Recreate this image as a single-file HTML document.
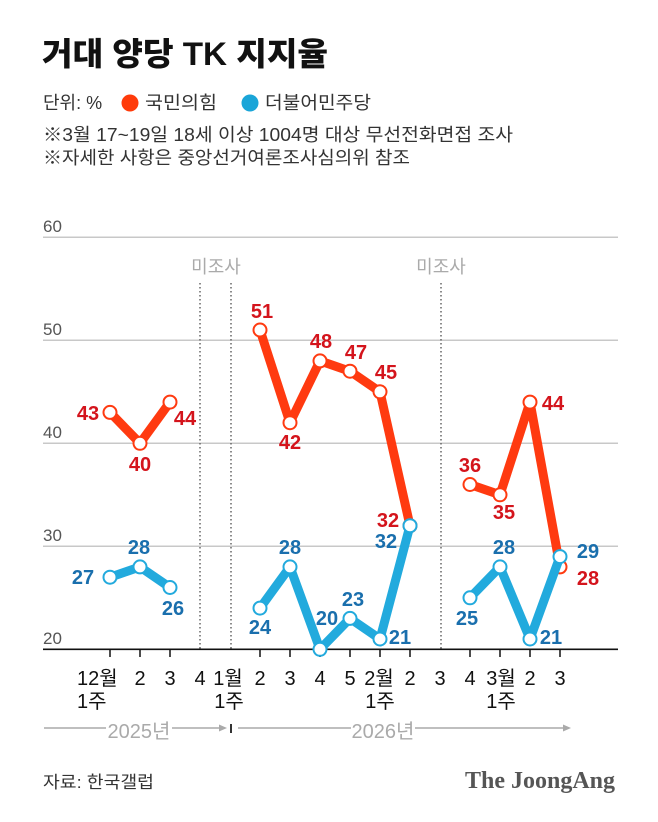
<!DOCTYPE html>
<html>
<head>
<meta charset="utf-8">
<style>
  html, body { margin:0; padding:0; background:#fff; }
  svg { display:block; }
  .k { font-family: "Liberation Sans", "Noto Sans CJK KR", sans-serif; }
  .lbl { font-family: "Liberation Sans", sans-serif; font-weight:700; font-size:20px; text-anchor:middle; }
  .r { fill:#d4141c; }
  .b { fill:#1a6fad; }
  .ax { font-family: "Liberation Sans", "Noto Sans CJK KR", sans-serif; font-size:20px; fill:#111; text-anchor:middle; }
  .yt { font-family: "Liberation Sans", sans-serif; font-size:17px; fill:#555; }
</style>
</head>
<body>
<svg width="658" height="822" viewBox="0 0 658 822" xmlns="http://www.w3.org/2000/svg">
  <rect width="658" height="822" fill="#fff"/>

  <!-- Title -->
  <text x="42" y="65" class="k" font-size="32" font-weight="900" fill="#111" textLength="286" lengthAdjust="spacingAndGlyphs">거대 양당 TK 지지율</text>

  <!-- Legend -->
  <text x="43" y="109" class="k" font-size="18" fill="#333">단위: %</text>
  <circle cx="130" cy="103" r="8.5" fill="#ff3b0a"/>
  <text x="145" y="109" class="k" font-size="18" fill="#333" textLength="72" lengthAdjust="spacingAndGlyphs">국민의힘</text>
  <circle cx="250" cy="103" r="8.5" fill="#1aa5d8"/>
  <text x="265" y="109" class="k" font-size="18" fill="#333" textLength="106" lengthAdjust="spacingAndGlyphs">더불어민주당</text>

  <text x="43" y="141" class="k" font-size="18" fill="#333" textLength="470" lengthAdjust="spacingAndGlyphs">※3월 17~19일 18세 이상 1004명 대상 무선전화면접 조사</text>
  <text x="43" y="164" class="k" font-size="18" fill="#333" textLength="367" lengthAdjust="spacingAndGlyphs">※자세한 사항은 중앙선거여론조사심의위 참조</text>

  <!-- Gridlines -->
  <g stroke="#c8c8c8" stroke-width="1.5">
    <line x1="43" y1="237.3" x2="618" y2="237.3"/>
    <line x1="43" y1="340.3" x2="618" y2="340.3"/>
    <line x1="43" y1="443.3" x2="618" y2="443.3"/>
    <line x1="43" y1="546.3" x2="618" y2="546.3"/>
  </g>
  <text x="43" y="232" class="yt">60</text>
  <text x="43" y="335" class="yt">50</text>
  <text x="43" y="438" class="yt">40</text>
  <text x="43" y="541" class="yt">30</text>
  <text x="43" y="644" class="yt">20</text>

  <!-- Dotted separators -->
  <g stroke="#666" stroke-width="1.5" stroke-dasharray="1.5,2.5">
    <line x1="200" y1="283" x2="200" y2="649"/>
    <line x1="231" y1="283" x2="231" y2="649"/>
    <line x1="441" y1="283" x2="441" y2="649"/>
  </g>
  <text x="216" y="273" class="k" font-size="18" fill="#aaa" text-anchor="middle">미조사</text>
  <text x="441" y="273" class="k" font-size="18" fill="#aaa" text-anchor="middle">미조사</text>

  <!-- Baseline and ticks -->
  <line x1="43" y1="649.3" x2="618" y2="649.3" stroke="#111" stroke-width="1.6"/>
  <g stroke="#111" stroke-width="1.5">
    <line x1="110" y1="649" x2="110" y2="657"/>
    <line x1="140" y1="649" x2="140" y2="657"/>
    <line x1="170" y1="649" x2="170" y2="657"/>
    <line x1="260" y1="649" x2="260" y2="657"/>
    <line x1="290" y1="649" x2="290" y2="657"/>
    <line x1="320" y1="649" x2="320" y2="657"/>
    <line x1="350" y1="649" x2="350" y2="657"/>
    <line x1="380" y1="649" x2="380" y2="657"/>
    <line x1="410" y1="649" x2="410" y2="657"/>
    <line x1="470" y1="649" x2="470" y2="657"/>
    <line x1="500" y1="649" x2="500" y2="657"/>
    <line x1="530" y1="649" x2="530" y2="657"/>
    <line x1="560" y1="649" x2="560" y2="657"/>
  </g>

  <!-- Red series -->
  <g fill="none" stroke="#ff3a10" stroke-width="9" stroke-linejoin="round" stroke-linecap="round">
    <polyline points="110,412.4 140,443.3 170,402.1"/>
    <polyline points="260,330 290,422.7 320,360.9 350,371.2 380,391.8 410,525.7"/>
    <polyline points="470,484.5 500,494.8 530,402.1 560,566.9"/>
  </g>
  <g fill="#fff" stroke="#ff3a10" stroke-width="2">
    <circle cx="110" cy="412.4" r="6.5"/>
    <circle cx="140" cy="443.3" r="6.5"/>
    <circle cx="170" cy="402.1" r="6.5"/>
    <circle cx="260" cy="330" r="6.5"/>
    <circle cx="290" cy="422.7" r="6.5"/>
    <circle cx="320" cy="360.9" r="6.5"/>
    <circle cx="350" cy="371.2" r="6.5"/>
    <circle cx="380" cy="391.8" r="6.5"/>
    <circle cx="410" cy="525.7" r="6.5"/>
    <circle cx="470" cy="484.5" r="6.5"/>
    <circle cx="500" cy="494.8" r="6.5"/>
    <circle cx="530" cy="402.1" r="6.5"/>
    <circle cx="560" cy="566.9" r="6.5"/>
  </g>

  <!-- Blue series -->
  <g fill="none" stroke="#22aadd" stroke-width="9" stroke-linejoin="round" stroke-linecap="round">
    <polyline points="110,577.2 140,566.9 170,587.5"/>
    <polyline points="260,608.1 290,566.9 320,649.3 350,618.4 380,639 410,525.7"/>
    <polyline points="470,597.8 500,566.9 530,639 560,556.6"/>
  </g>
  <g fill="#fff" stroke="#22aadd" stroke-width="2">
    <circle cx="110" cy="577.2" r="6.5"/>
    <circle cx="140" cy="566.9" r="6.5"/>
    <circle cx="170" cy="587.5" r="6.5"/>
    <circle cx="260" cy="608.1" r="6.5"/>
    <circle cx="290" cy="566.9" r="6.5"/>
    <circle cx="320" cy="649.3" r="6.5"/>
    <circle cx="350" cy="618.4" r="6.5"/>
    <circle cx="380" cy="639" r="6.5"/>
    <circle cx="410" cy="525.7" r="6.5"/>
    <circle cx="470" cy="597.8" r="6.5"/>
    <circle cx="500" cy="566.9" r="6.5"/>
    <circle cx="530" cy="639" r="6.5"/>
    <circle cx="560" cy="556.6" r="6.5"/>
  </g>

  <!-- Red labels -->
  <text x="88" y="420" class="lbl r">43</text>
  <text x="140" y="471" class="lbl r">40</text>
  <text x="185" y="425" class="lbl r">44</text>
  <text x="262" y="318" class="lbl r">51</text>
  <text x="290" y="449" class="lbl r">42</text>
  <text x="321" y="348" class="lbl r">48</text>
  <text x="356" y="359" class="lbl r">47</text>
  <text x="386" y="379" class="lbl r">45</text>
  <text x="388" y="527" class="lbl r">32</text>
  <text x="470" y="472" class="lbl r">36</text>
  <text x="504" y="519" class="lbl r">35</text>
  <text x="553" y="410" class="lbl r">44</text>
  <text x="588" y="585" class="lbl r" font-size="24">28</text>

  <!-- Blue labels -->
  <text x="83" y="584" class="lbl b">27</text>
  <text x="139" y="554" class="lbl b">28</text>
  <text x="173" y="615" class="lbl b">26</text>
  <text x="260" y="634" class="lbl b">24</text>
  <text x="290" y="554" class="lbl b">28</text>
  <text x="327" y="625" class="lbl b">20</text>
  <text x="353" y="606" class="lbl b">23</text>
  <text x="400" y="644" class="lbl b">21</text>
  <text x="386" y="548" class="lbl b">32</text>
  <text x="467" y="625" class="lbl b">25</text>
  <text x="504" y="554" class="lbl b">28</text>
  <text x="551" y="644" class="lbl b">21</text>
  <text x="588" y="558" class="lbl b" font-size="24">29</text>

  <!-- X axis labels -->
  <text x="77" y="685" class="ax" text-anchor="start" style="text-anchor:start">12월</text>
  <text x="140" y="685" class="ax">2</text>
  <text x="170" y="685" class="ax">3</text>
  <text x="200" y="685" class="ax">4</text>
  <text x="228" y="685" class="ax">1월</text>
  <text x="260" y="685" class="ax">2</text>
  <text x="290" y="685" class="ax">3</text>
  <text x="320" y="685" class="ax">4</text>
  <text x="350" y="685" class="ax">5</text>
  <text x="379" y="685" class="ax">2월</text>
  <text x="410" y="685" class="ax">2</text>
  <text x="440" y="685" class="ax">3</text>
  <text x="470" y="685" class="ax">4</text>
  <text x="501" y="685" class="ax">3월</text>
  <text x="530" y="685" class="ax">2</text>
  <text x="560" y="685" class="ax">3</text>

  <text x="77" y="708" class="ax" style="text-anchor:start">1주</text>
  <text x="229" y="708" class="ax">1주</text>
  <text x="380" y="708" class="ax">1주</text>
  <text x="501" y="708" class="ax">1주</text>

  <!-- Year row -->
  <g stroke="#aaa" stroke-width="1.5">
    <line x1="44" y1="728" x2="106" y2="728"/>
    <line x1="172" y1="728" x2="224" y2="728"/>
    <line x1="238" y1="728" x2="351" y2="728"/>
    <line x1="415" y1="728" x2="567" y2="728"/>
  </g>
  <polygon points="219,724.5 227,728 219,731.5" fill="#aaa"/>
  <polygon points="563,724.5 571,728 563,731.5" fill="#aaa"/>
  <line x1="231" y1="724" x2="231" y2="733" stroke="#333" stroke-width="2"/>
  <text x="139" y="738" class="k" font-size="20" fill="#aaa" text-anchor="middle">2025년</text>
  <text x="383" y="738" class="k" font-size="20" fill="#aaa" text-anchor="middle">2026년</text>

  <!-- Footer -->
  <text x="43" y="788" class="k" font-size="17" fill="#333" textLength="111" lengthAdjust="spacingAndGlyphs">자료: 한국갤럽</text>
  <text x="465" y="788" font-family="Liberation Serif, serif" font-weight="700" font-size="24" fill="#555" textLength="150" lengthAdjust="spacingAndGlyphs">The JoongAng</text>
</svg>
</body>
</html>
